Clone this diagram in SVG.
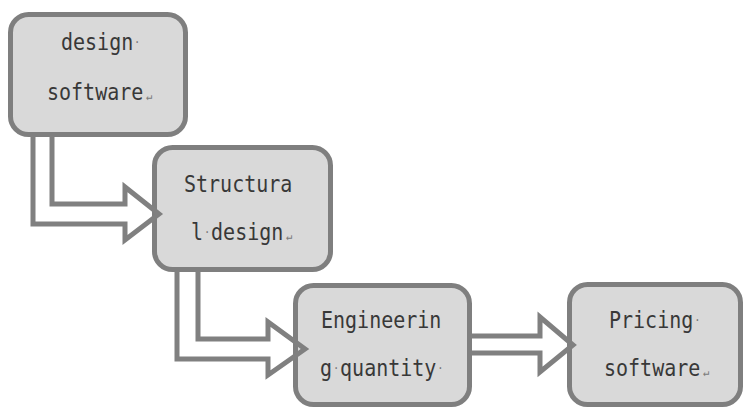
<svg xmlns="http://www.w3.org/2000/svg" width="745" height="410" viewBox="0 0 745 410">
<style>
.box{fill:#d9d9d9;stroke:#7f7f7f;stroke-width:5}
.arr{fill:none;stroke:#808080;stroke-width:5;stroke-linejoin:miter}
.t{font-family:"DejaVu Sans Mono","Liberation Mono",monospace;font-size:23px;fill:#383838}
.m{font-size:12px;fill:#777}
</style>
<rect width="745" height="410" fill="#fff"/>
<g id="n1">
<rect class="box" x="10.5" y="14.5" width="175" height="120" rx="18"/>
<text class="t" transform="translate(61 50) scale(0.87 1)">design<tspan class="m" dx="1" dy="-4">·</tspan></text>
<text class="t" transform="translate(47 100) scale(0.87 1)">software<tspan class="m" dx="3">↵</tspan></text>
</g>
<g id="n2">
<rect class="box" x="154.5" y="147.5" width="176" height="122" rx="18"/>
<text class="t" transform="translate(184 192) scale(0.87 1)">Structura</text>
<text class="t" transform="translate(191 240) scale(0.87 1)">l<tspan class="m" dx="1" dy="-4">·</tspan><tspan dx="1" dy="4">design</tspan><tspan class="m" dx="3">↵</tspan></text>
</g>
<g id="n3">
<rect class="box" x="295.5" y="285.5" width="174" height="119" rx="18"/>
<text class="t" transform="translate(321 328) scale(0.87 1)">Engineerin</text>
<text class="t" transform="translate(320 376) scale(0.87 1)">g<tspan class="m" dx="1" dy="-4">·</tspan><tspan dx="1" dy="4">quantity</tspan><tspan class="m" dx="1" dy="-4">·</tspan></text>
</g>
<g id="n4">
<rect class="box" x="569.5" y="284.5" width="171" height="120" rx="18"/>
<text class="t" transform="translate(609 328) scale(0.87 1)">Pricing<tspan class="m" dx="1" dy="-4">·</tspan></text>
<text class="t" transform="translate(604 376) scale(0.87 1)">software<tspan class="m" dx="3">↵</tspan></text>
</g>
<g id="connectors">
<path class="arr" d="M33,136 V224 H125 V240 L159,214 L125,187 V204 H52 V136"/>
<path class="arr" d="M177,271 V359 H268 V375 L305,349 L268,322 V339 H198 V271"/>
<path class="arr" d="M471,336 H540 V317 L573,345 L540,372 V353 H471"/>
</g>
</svg>
